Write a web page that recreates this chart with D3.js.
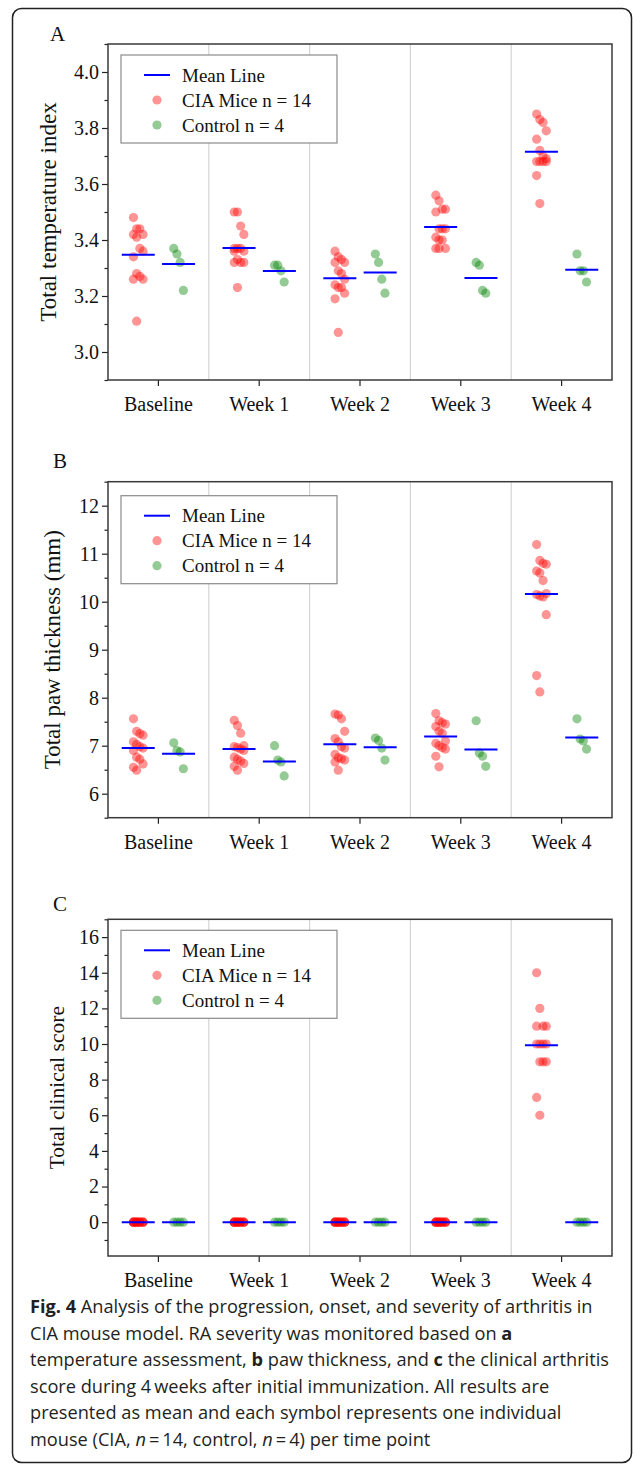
<!DOCTYPE html>
<html>
<head>
<meta charset="utf-8">
<script src="https://cdn.jsdelivr.net/npm/d3@7"></script>
<style>
  body { margin: 0; background: white; }
  svg { display: block; }
</style>
</head>
<body>
<div id="vis"></div>
<script>
const WIDTH = 633;
const HEIGHT = 1464;
const SVG = d3.select("#vis").append("svg").attr("width", WIDTH).attr("height", HEIGHT);

const SEMANAS = ["Baseline", "Week 1", "Week 2", "Week 3", "Week 4"];
const LEYENDA = ["Mean Line", "CIA Mice n = 14", "Control n = 4"];

// A: temperatura
const TEMP_CIA = [
  [3.48, 3.44, 3.44, 3.42, 3.42, 3.41, 3.37, 3.36, 3.34, 3.28, 3.27, 3.26, 3.26, 3.11],
  [3.50, 3.50, 3.45, 3.42, 3.37, 3.37, 3.37, 3.36, 3.36, 3.33, 3.32, 3.32, 3.32, 3.23],
  [3.36, 3.34, 3.33, 3.32, 3.32, 3.29, 3.28, 3.26, 3.24, 3.23, 3.23, 3.21, 3.19, 3.07],
  [3.56, 3.54, 3.51, 3.51, 3.50, 3.44, 3.44, 3.44, 3.41, 3.40, 3.40, 3.37, 3.37, 3.37],
  [3.85, 3.83, 3.82, 3.79, 3.76, 3.72, 3.70, 3.69, 3.68, 3.68, 3.68, 3.68, 3.63, 3.53]
];
const TEMP_CONTROL = [
  [3.37, 3.35, 3.32, 3.22],
  [3.31, 3.31, 3.29, 3.25],
  [3.35, 3.32, 3.26, 3.21],
  [3.32, 3.31, 3.22, 3.21],
  [3.35, 3.29, 3.29, 3.25]
];
const TEMP_MEDIA_CIA = [3.347, 3.371, 3.263, 3.446, 3.715];
const TEMP_MEDIA_CONTROL = [3.314, 3.289, 3.284, 3.264, 3.294];
const TEMP_TICKS = [3.0, 3.2, 3.4, 3.6, 3.8, 4.0];

// B: grosor de pata
const PATA_CIA = [
  [7.56, 7.30, 7.25, 7.22, 7.08, 7.03, 6.98, 6.95, 6.90, 6.76, 6.72, 6.62, 6.55, 6.49],
  [7.53, 7.42, 7.26, 7.00, 6.98, 6.96, 6.93, 6.90, 6.76, 6.72, 6.68, 6.63, 6.57, 6.49],
  [7.66, 7.64, 7.56, 7.30, 7.15, 7.08, 6.98, 6.95, 6.82, 6.75, 6.73, 6.70, 6.66, 6.49],
  [7.67, 7.52, 7.48, 7.45, 7.40, 7.30, 7.26, 7.10, 7.05, 7.00, 6.96, 6.93, 6.78, 6.56],
  [11.19, 10.86, 10.80, 10.78, 10.64, 10.60, 10.44, 10.17, 10.15, 10.12, 10.10, 9.73, 8.46, 8.12]
];
const PATA_CONTROL = [
  [7.06, 6.90, 6.87, 6.52],
  [7.00, 6.70, 6.66, 6.37],
  [7.16, 7.11, 6.95, 6.70],
  [7.52, 6.85, 6.78, 6.57],
  [7.56, 7.14, 7.10, 6.93]
];
const PATA_MEDIA_CIA = [6.95, 6.93, 7.03, 7.19, 10.16];
const PATA_MEDIA_CONTROL = [6.83, 6.67, 6.97, 6.92, 7.17];
const PATA_TICKS = [6, 7, 8, 9, 10, 11, 12];

// C: puntaje clinico
const PUNTAJE_CIA = [
  [0, 0, 0, 0, 0, 0, 0, 0, 0, 0, 0, 0, 0, 0],
  [0, 0, 0, 0, 0, 0, 0, 0, 0, 0, 0, 0, 0, 0],
  [0, 0, 0, 0, 0, 0, 0, 0, 0, 0, 0, 0, 0, 0],
  [0, 0, 0, 0, 0, 0, 0, 0, 0, 0, 0, 0, 0, 0],
  [14, 12, 11, 11, 11, 10, 10, 10, 10, 9, 9, 9, 7, 6]
];
const PUNTAJE_CONTROL = [
  [0, 0, 0, 0],
  [0, 0, 0, 0],
  [0, 0, 0, 0],
  [0, 0, 0, 0],
  [0, 0, 0, 0]
];
const PUNTAJE_MEDIA_CIA = [0, 0, 0, 0, 9.93];
const PUNTAJE_MEDIA_CONTROL = [0, 0, 0, 0, 0];
const PUNTAJE_TICKS = [0, 2, 4, 6, 8, 10, 12, 14, 16];

const LEYENDA_TEXTO = [
  [{t: "Fig. 4", b: true}, {t: " Analysis of the progression, onset, and severity of arthritis in"}],
  [{t: "CIA mouse model. RA severity was monitored based on "}, {t: "a", b: true}],
  [{t: "temperature assessment, "}, {t: "b", b: true}, {t: " paw thickness, and "}, {t: "c", b: true}, {t: " the clinical arthritis"}],
  [{t: "score during 4\u2009weeks after initial immunization. All results are"}],
  [{t: "presented as mean and each symbol represents one individual"}],
  [{t: "mouse (CIA, "}, {t: "n", i: true}, {t: "\u2009=\u200914, control, "}, {t: "n", i: true}, {t: "\u2009=\u20094) per time point"}]
];

const X0 = 108, X1 = 612;
const SERIF = "'Liberation Serif', 'Times New Roman', serif";

// marco exterior
SVG.append("rect")
  .attr("x", 12.5).attr("y", 8.5)
  .attr("width", 619).attr("height", 1454)
  .attr("rx", 9)
  .attr("fill", "none").attr("stroke", "#222").attr("stroke-width", 1.5);

const PANELES = [
  { letra: "A", titulo: "Total temperature index", y0: 44, y1: 380, dominio: [2.9, 4.1],
    menor: 0.1, ticks: TEMP_TICKS, formato: d3.format(".1f"),
    cia: TEMP_CIA, control: TEMP_CONTROL, mediaCia: TEMP_MEDIA_CIA, mediaControl: TEMP_MEDIA_CONTROL,
    letraX: 50, letraY: 41, tituloX: 56, tituloSize: 23, leyendaY: 11 },
  { letra: "B", titulo: "Total paw thickness (mm)", y0: 481.7, y1: 817.7, dominio: [5.5, 12.5],
    menor: 0.5, ticks: PATA_TICKS, formato: d3.format("d"),
    cia: PATA_CIA, control: PATA_CONTROL, mediaCia: PATA_MEDIA_CIA, mediaControl: PATA_MEDIA_CONTROL,
    letraX: 53, letraY: 468, tituloX: 60, tituloSize: 23, leyendaY: 14 },
  { letra: "C", titulo: "Total clinical score", y0: 919.3, y1: 1256, dominio: [-1.9, 17],
    menor: 1, ticks: PUNTAJE_TICKS, formato: d3.format("d"),
    cia: PUNTAJE_CIA, control: PUNTAJE_CONTROL, mediaCia: PUNTAJE_MEDIA_CIA, mediaControl: PUNTAJE_MEDIA_CONTROL,
    letraX: 53, letraY: 911, tituloX: 64, tituloSize: 21.5, leyendaY: 11 }
];

PANELES.forEach(p => crearPanel(p));
crearLeyendaTexto();

function desplazamientos(valores) {
  // separa un poco en x los puntos segun su orden
  const orden = d3.range(valores.length).sort((a, b) => valores[b] - valores[a]);
  const dx = new Array(valores.length);
  orden.forEach((idx, r) => { dx[idx] = ((r % 4) - 1.5) * 3.2; });
  return dx;
}

function crearPanel(p) {
  const G = SVG.append("g");

  const escalaX = d3.scaleBand().domain(SEMANAS).range([X0, X1]);
  const escalaY = d3.scaleLinear().domain(p.dominio).range([p.y1, p.y0]);
  const bw = escalaX.bandwidth();

  // separadores de semanas
  G.selectAll(".sep")
    .data(SEMANAS.slice(1))
    .join("line")
    .attr("x1", d => escalaX(d)).attr("x2", d => escalaX(d))
    .attr("y1", p.y0).attr("y2", p.y1)
    .attr("stroke", "#d4d4d4").attr("stroke-width", 1.2);

  // ticks menores
  const menores = d3.range(Math.ceil(p.dominio[0] / p.menor) * p.menor, p.dominio[1] + 1e-9, p.menor)
    .map(v => +v.toFixed(3))
    .filter(v => !p.ticks.some(t => Math.abs(t - v) < 1e-6));
  G.append("g")
    .attr("transform", `translate(${X0},0)`)
    .call(d3.axisLeft(escalaY).tickValues(menores).tickSize(3.5).tickSizeOuter(0).tickFormat(""))
    .call(g => g.select(".domain").remove())
    .call(g => g.selectAll("line").attr("stroke", "#222").attr("stroke-width", 1.2));

  const ejeY = G.append("g")
    .attr("transform", `translate(${X0},0)`)
    .call(d3.axisLeft(escalaY).tickValues(p.ticks).tickSize(6).tickPadding(3).tickFormat(p.formato))
    .call(g => g.select(".domain").remove());
  ejeY.selectAll("line").attr("stroke", "#222").attr("stroke-width", 1.2);
  ejeY.selectAll("text")
    .attr("font-family", SERIF).attr("font-size", 20).attr("fill", "#111");

  const ejeX = G.append("g")
    .attr("transform", `translate(0,${p.y1})`)
    .call(d3.axisBottom(escalaX).tickSize(6).tickSizeOuter(0).tickPadding(11))
    .call(g => g.select(".domain").remove());
  ejeX.selectAll("line").attr("stroke", "#222").attr("stroke-width", 1.2);
  ejeX.selectAll("text")
    .attr("font-family", SERIF).attr("font-size", 20).attr("fill", "#111");

  // marco del grafico
  G.append("rect")
    .attr("x", X0).attr("y", p.y0)
    .attr("width", X1 - X0).attr("height", p.y1 - p.y0)
    .attr("fill", "none").attr("stroke", "#3a3a3a").attr("stroke-width", 1.5);

  // puntos
  const puntos = [];
  SEMANAS.forEach((s, i) => {
    const dxc = desplazamientos(p.cia[i]);
    p.cia[i].forEach((v, k) => puntos.push({ semana: s, grupo: "cia", valor: v, dx: dxc[k] }));
    const dxk = desplazamientos(p.control[i]);
    p.control[i].forEach((v, k) => puntos.push({ semana: s, grupo: "control", valor: v, dx: dxk[k] }));
  });

  G.selectAll(".punto")
    .data(puntos)
    .join("circle")
    .attr("class", "punto")
    .attr("cx", d => escalaX(d.semana) + bw * (d.grupo == "cia" ? 0.3 : 0.7) + d.dx)
    .attr("cy", d => escalaY(d.valor))
    .attr("r", 4.6)
    .attr("fill", d => d.grupo == "cia" ? "#ff0000" : "#008000")
    .attr("fill-opacity", 0.42);

  // lineas de media
  const medias = [];
  SEMANAS.forEach((s, i) => {
    medias.push({ semana: s, pos: 0.3, valor: p.mediaCia[i] });
    medias.push({ semana: s, pos: 0.7, valor: p.mediaControl[i] });
  });
  G.selectAll(".media")
    .data(medias)
    .join("line")
    .attr("class", "media")
    .attr("x1", d => escalaX(d.semana) + bw * d.pos - 16.5)
    .attr("x2", d => escalaX(d.semana) + bw * d.pos + 16.5)
    .attr("y1", d => escalaY(d.valor)).attr("y2", d => escalaY(d.valor))
    .attr("stroke", "#0000ff").attr("stroke-width", 2);

  // leyenda
  const L = G.append("g").attr("transform", `translate(121,${p.y0 + p.leyendaY})`);
  L.append("rect")
    .attr("width", 216).attr("height", 88)
    .attr("fill", "white").attr("stroke", "#8a8a8a").attr("stroke-width", 1.2);
  L.append("line")
    .attr("x1", 23).attr("x2", 49).attr("y1", 20).attr("y2", 20)
    .attr("stroke", "#0000ff").attr("stroke-width", 2);
  L.append("circle").attr("cx", 36).attr("cy", 45).attr("r", 4.6)
    .attr("fill", "#ff0000").attr("fill-opacity", 0.42);
  L.append("circle").attr("cx", 36).attr("cy", 70).attr("r", 4.6)
    .attr("fill", "#008000").attr("fill-opacity", 0.42);
  L.selectAll(".ley")
    .data(LEYENDA)
    .join("text")
    .attr("x", 61)
    .attr("y", (d, i) => 20 + i * 25)
    .attr("dy", "0.35em")
    .attr("font-family", SERIF).attr("font-size", 19).attr("fill", "#111")
    .text(d => d);

  // letra del panel
  G.append("text")
    .attr("x", p.letraX).attr("y", p.letraY)
    .attr("font-family", SERIF).attr("font-size", 21).attr("fill", "#111")
    .text(p.letra);

  // titulo eje Y
  G.append("text")
    .attr("transform", `translate(${p.tituloX},${(p.y0 + p.y1) / 2}) rotate(-90)`)
    .attr("text-anchor", "middle")
    .attr("font-family", SERIF).attr("font-size", p.tituloSize).attr("fill", "#111")
    .text(p.titulo);
}

function crearLeyendaTexto() {
  const T = SVG.append("text")
    .attr("font-family", "'Open Sans', 'Noto Sans', sans-serif")
    .attr("font-size", 18.2)
    .attr("fill", "#231f20");
  LEYENDA_TEXTO.forEach((linea, i) => {
    linea.forEach((seg, j) => {
      const ts = T.append("tspan").text(seg.t);
      if (j == 0) ts.attr("x", 30).attr("y", 1313 + i * 26.6);
      if (seg.b) ts.attr("font-weight", "bold");
      if (seg.i) ts.attr("font-style", "italic");
    });
  });
}
</script>
</body>
</html>
